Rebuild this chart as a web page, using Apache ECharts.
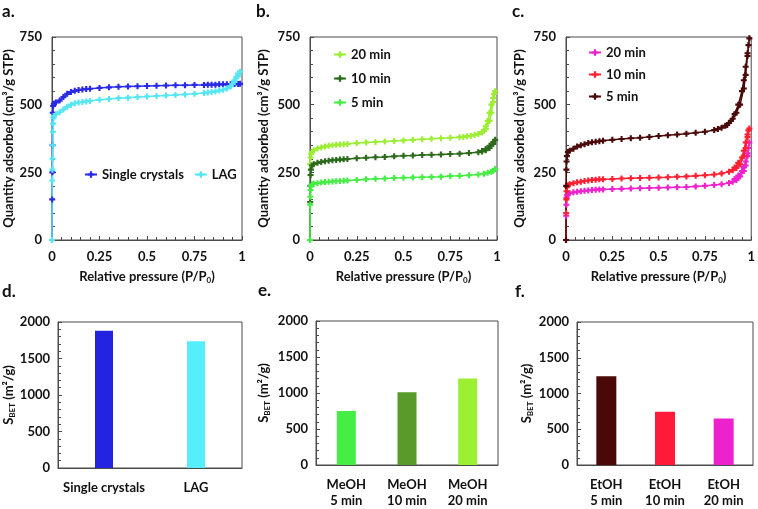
<!DOCTYPE html>
<html>
<head>
<meta charset="utf-8">
<script src="https://cdn.jsdelivr.net/npm/echarts@6/dist/echarts.min.js"></script>
<style>html,body{margin:0;padding:0;background:#fff;}#chart{width:758px;height:509px;}</style>
</head>
<body>
<div id="chart"></div>
<script>
// ---------- DATA ----------
// Panel a: isotherms [P/P0, quantity adsorbed]
const singleCrystals = [[0,0],[0.001,150],[0.002,250],[0.003,350],[0.004,470],[0.006,495],[0.01,503],[0.02,508],[0.04,515],[0.06,528],[0.08,540],[0.1,547],[0.12,551],[0.14,554],[0.16,556],[0.18,558],[0.2,559],[0.25,562],[0.3,564],[0.35,566],[0.4,567],[0.45,568],[0.5,569],[0.55,570],[0.6,571],[0.65,572],[0.7,572],[0.75,573],[0.8,573],[0.82,574],[0.84,574],[0.86,574],[0.88,575],[0.9,575],[0.92,575],[0.94,575],[0.96,576],[0.98,576],[0.99,577]];
const lag = [[0,0],[0.001,220],[0.002,260],[0.003,300],[0.004,350],[0.005,400],[0.006,430],[0.008,450],[0.01,458],[0.02,465],[0.04,472],[0.06,482],[0.08,492],[0.1,500],[0.12,505],[0.14,508],[0.16,510],[0.18,512],[0.2,514],[0.25,518],[0.3,521],[0.35,524],[0.4,526],[0.45,528],[0.5,530],[0.55,532],[0.6,534],[0.65,536],[0.7,538],[0.75,540],[0.8,543],[0.82,545],[0.84,547],[0.86,549],[0.88,552],[0.9,555],[0.92,560],[0.94,568],[0.96,585],[0.98,605],[0.99,622],[0.98,615],[0.97,603],[0.96,590],[0.95,577],[0.94,568]];
// Panel b: MeOH
const meoh20 = [[0.001,280],[0.003,305],[0.006,318],[0.01,325],[0.02,332],[0.04,338],[0.06,342],[0.08,345],[0.1,348],[0.12,350],[0.14,352],[0.16,353],[0.18,354],[0.2,355],[0.25,358],[0.3,360],[0.35,362],[0.4,364],[0.45,366],[0.5,368],[0.55,370],[0.6,372],[0.65,374],[0.7,376],[0.75,378],[0.8,380],[0.82,381],[0.84,383],[0.86,385],[0.88,388],[0.9,392],[0.92,398],[0.94,410],[0.96,440],[0.97,470],[0.98,510],[0.99,550],[0.985,540],[0.98,525],[0.97,500],[0.96,470],[0.95,440],[0.94,420],[0.93,405],[0.92,398]];
const meoh10 = [[0,0],[0.001,140],[0.002,200],[0.003,240],[0.005,260],[0.01,275],[0.02,280],[0.04,285],[0.06,288],[0.08,291],[0.1,293],[0.12,295],[0.14,296],[0.16,297],[0.18,298],[0.2,299],[0.25,302],[0.3,304],[0.35,306],[0.4,307],[0.45,309],[0.5,311],[0.55,312],[0.6,314],[0.65,315],[0.7,316],[0.75,318],[0.8,319],[0.85,321],[0.9,324],[0.92,327],[0.94,332],[0.96,340],[0.98,355],[0.99,370],[0.98,362],[0.96,348],[0.94,336],[0.92,329]];
const meoh5 = [[0,0],[0.001,130],[0.002,160],[0.003,185],[0.005,198],[0.01,205],[0.02,208],[0.04,210],[0.06,212],[0.08,214],[0.1,215],[0.12,216],[0.14,217],[0.16,218],[0.18,219],[0.2,220],[0.25,222],[0.3,224],[0.35,226],[0.4,227],[0.45,229],[0.5,230],[0.55,231],[0.6,232],[0.65,233],[0.7,234],[0.75,236],[0.8,237],[0.85,239],[0.9,242],[0.93,245],[0.95,248],[0.97,252],[0.98,256],[0.99,262]];
// Panel c: EtOH
const etoh20 = [[0,0],[0.001,90],[0.002,130],[0.003,155],[0.005,165],[0.01,170],[0.02,173],[0.04,176],[0.06,178],[0.08,180],[0.1,182],[0.12,183],[0.14,185],[0.16,186],[0.18,187],[0.2,187],[0.25,188],[0.3,189],[0.35,190],[0.4,191],[0.45,192],[0.5,193],[0.55,194],[0.6,195],[0.65,196],[0.7,198],[0.75,200],[0.8,203],[0.84,206],[0.88,211],[0.9,215],[0.92,222],[0.94,235],[0.96,255],[0.97,275],[0.98,310],[0.99,360],[0.985,340],[0.98,320],[0.97,290],[0.96,270],[0.95,255],[0.93,238],[0.91,225]];
const etoh10 = [[0,0],[0.001,100],[0.002,150],[0.003,180],[0.005,195],[0.01,202],[0.02,206],[0.04,210],[0.06,213],[0.08,215],[0.1,218],[0.12,220],[0.14,222],[0.16,223],[0.18,224],[0.2,224],[0.25,225],[0.3,227],[0.35,228],[0.4,229],[0.45,230],[0.5,231],[0.55,232],[0.6,234],[0.65,235],[0.7,237],[0.75,239],[0.8,242],[0.84,246],[0.88,252],[0.9,258],[0.92,266],[0.94,280],[0.96,310],[0.97,340],[0.98,380],[0.99,412],[0.985,405],[0.98,390],[0.97,360],[0.96,330],[0.95,305],[0.93,285],[0.91,268]];
const etoh5 = [[0,0],[0.001,200],[0.002,260],[0.003,290],[0.005,310],[0.01,325],[0.02,330],[0.04,337],[0.06,345],[0.08,350],[0.1,354],[0.12,358],[0.14,361],[0.16,363],[0.18,365],[0.2,367],[0.25,370],[0.3,373],[0.35,376],[0.4,378],[0.45,381],[0.5,384],[0.55,387],[0.6,390],[0.65,393],[0.7,396],[0.75,400],[0.8,406],[0.82,410],[0.84,415],[0.86,422],[0.88,432],[0.9,448],[0.92,470],[0.94,500],[0.96,560],[0.97,610],[0.98,680],[0.99,745],[0.985,720],[0.98,690],[0.97,640],[0.96,590],[0.95,550],[0.93,500],[0.91,465],[0.89,440],[0.87,425]];
// Bar panels: BET surface areas
const dCategories = ['Single crystals', 'LAG'];
const dValues = [1880, 1735];
const eCategories = ['MeOH\n5 min', 'MeOH\n10 min', 'MeOH\n20 min'];
const eValues = [750, 1010, 1200];
const fCategories = ['EtOH\n5 min', 'EtOH\n10 min', 'EtOH\n20 min'];
const fValues = [1240, 745, 650];
// Tick settings
const isoTicks = {min: 0, max: 750, interval: 250};
const presTicks = {min: 0, max: 1, interval: 0.25};
const betTicks = {min: 0, max: 2000, interval: 500};

// ---------- STYLE ----------
const FONT = 'Lato';
const AX = '#4a4a4a';
const plus = 'path://M2.6,0H5.4V2.6H8V5.4H5.4V8H2.6V5.4H0V2.6H2.6Z';
const colA = ['#2a2ae6', '#55e6f2'];
const colB = ['#9cee33', '#2d6a1c', '#44ee44'];
const colC = ['#ee22cc', '#ff2034', '#4a0a0a'];
const dColors = ['#2424e0', '#55eefa'];
const eColors = ['#44ee44', '#5a9a2a', '#9cf033'];
const fColors = ['#4a0808', '#ff1a3a', '#ee22cc'];

const grids = [
  {left: 52, top: 37, width: 190, height: 203},
  {left: 310, top: 37, width: 187, height: 203},
  {left: 566, top: 37, width: 187, height: 203},
  {left: 58, top: 322, width: 184, height: 146},
  {left: 316, top: 321, width: 182, height: 147},
  {left: 577, top: 322, width: 176, height: 147}
].map(g => Object.assign({show: true, borderColor: AX, borderWidth: 1, backgroundColor: '#fff'}, g));

const labelStyle = {color: '#111', fontFamily: FONT, fontWeight: 'bold', fontSize: 13};
const axisLine = {show: true, lineStyle: {color: AX, width: 1}};
const plain = v => String(v);

function valueX(i) {
  return {
    type: 'value', gridIndex: i, min: presTicks.min, max: presTicks.max, interval: presTicks.interval,
    axisLine: axisLine, splitLine: {show: false},
    axisTick: {show: true, inside: true, length: 4, lineStyle: {color: AX}},
    minorTick: {show: true, splitNumber: 5, length: 3, lineStyle: {color: AX}},
    axisLabel: Object.assign({margin: 10, formatter: plain}, labelStyle),
    name: 'Relative pressure (P/P{s|0})', nameLocation: 'middle', nameGap: 30,
    nameTextStyle: Object.assign({}, labelStyle, {rich: {s: {fontFamily: FONT, fontWeight: 'bold', fontSize: 8, verticalAlign: 'bottom', padding: [6, 0, 0, 0]}}})
  };
}
function valueY(i, gap) {
  return {
    type: 'value', gridIndex: i, min: isoTicks.min, max: isoTicks.max, interval: isoTicks.interval,
    axisLine: axisLine, splitLine: {show: false},
    axisTick: {show: true, inside: true, length: 4, lineStyle: {color: AX}},
    minorTick: {show: true, splitNumber: 5, length: 3, lineStyle: {color: AX}},
    axisLabel: Object.assign({margin: 10, formatter: plain}, labelStyle),
    name: 'Quantity adsorbed (cm³/g STP)', nameLocation: 'middle', nameGap: gap,
    nameTextStyle: labelStyle
  };
}
function catX(i, cats) {
  return {
    type: 'category', gridIndex: i, data: cats,
    axisLine: axisLine, axisTick: {show: false}, splitLine: {show: false},
    axisLabel: Object.assign({margin: 12, lineHeight: 16, interval: 0}, labelStyle)
  };
}
function betY(i, gap) {
  return {
    type: 'value', gridIndex: i, min: betTicks.min, max: betTicks.max, interval: betTicks.interval,
    axisLine: axisLine, splitLine: {show: false},
    axisTick: {show: true, inside: true, length: 4, lineStyle: {color: AX}},
    minorTick: {show: true, splitNumber: 5, length: 3, lineStyle: {color: AX}},
    axisLabel: Object.assign({margin: 8, formatter: plain}, labelStyle),
    name: '{a|S}{b|BET}{a| (m²/g)}', nameLocation: 'middle', nameGap: gap,
    nameTextStyle: {rich: {
      a: {fontFamily: FONT, fontWeight: 'bold', fontSize: 13, color: '#111'},
      b: {fontFamily: FONT, fontWeight: 'bold', fontSize: 8, color: '#111', verticalAlign: 'bottom', padding: [6, 0, 0, 0]}
    }}
  };
}
function lineSeries(name, data, color, idx) {
  return {
    type: 'line', name: name, data: data, xAxisIndex: idx, yAxisIndex: idx,
    symbol: plus, symbolSize: 6, showSymbol: true,
    lineStyle: {color: color, width: 1.5}, itemStyle: {color: color},
    animation: false
  };
}
function barSeries(vals, colors, idx, w) {
  return {
    type: 'bar', xAxisIndex: idx, yAxisIndex: idx, barWidth: w,
    data: vals.map((v, k) => ({value: v, itemStyle: {color: colors[k]}})),
    animation: false
  };
}

const legendText = {color: '#111', fontFamily: FONT, fontWeight: 'bold', fontSize: 13};
const stripName = n => n.replace(/^(MeOH|EtOH) /, '');

const option = {
  backgroundColor: '#fff',
  animation: false,
  grid: grids,
  xAxis: [valueX(0), valueX(1), valueX(2), catX(3, dCategories), catX(4, eCategories), catX(5, fCategories)],
  yAxis: [valueY(0, 34), valueY(1, 40), valueY(2, 40), betY(3, 40), betY(4, 45), betY(5, 43)],
  legend: [
    {data: ['Single crystals', 'LAG'], left: 84, top: 168, orient: 'horizontal', itemGap: 10, itemWidth: 12, itemHeight: 8, textStyle: legendText, padding: 0},
    {data: ['MeOH 20 min', 'MeOH 10 min', 'MeOH 5 min'], left: 333, top: 48, orient: 'vertical', itemGap: 11, itemWidth: 12, itemHeight: 8, textStyle: legendText, formatter: stripName, padding: 0},
    {data: ['EtOH 20 min', 'EtOH 10 min', 'EtOH 5 min'], left: 588, top: 46, orient: 'vertical', itemGap: 9, itemWidth: 12, itemHeight: 8, textStyle: legendText, formatter: stripName, padding: 0}
  ],
  graphic: [
    {type: 'text', left: 2, top: 3, style: {text: 'a.', font: 'bold 17px Lato', fill: '#111'}},
    {type: 'text', left: 256, top: 3, style: {text: 'b.', font: 'bold 17px Lato', fill: '#111'}},
    {type: 'text', left: 512, top: 3, style: {text: 'c.', font: 'bold 17px Lato', fill: '#111'}},
    {type: 'text', left: 2, top: 283, style: {text: 'd.', font: 'bold 17px Lato', fill: '#111'}},
    {type: 'text', left: 258, top: 282, style: {text: 'e.', font: 'bold 17px Lato', fill: '#111'}},
    {type: 'text', left: 515, top: 283, style: {text: 'f.', font: 'bold 17px Lato', fill: '#111'}}
  ],
  series: [
    lineSeries('Single crystals', singleCrystals, colA[0], 0),
    lineSeries('LAG', lag, colA[1], 0),
    lineSeries('MeOH 20 min', meoh20, colB[0], 1),
    lineSeries('MeOH 10 min', meoh10, colB[1], 1),
    lineSeries('MeOH 5 min', meoh5, colB[2], 1),
    lineSeries('EtOH 20 min', etoh20, colC[0], 2),
    lineSeries('EtOH 10 min', etoh10, colC[1], 2),
    lineSeries('EtOH 5 min', etoh5, colC[2], 2),
    barSeries(dValues, dColors, 3, 18),
    barSeries(eValues, eColors, 4, 19),
    barSeries(fValues, fColors, 5, 20)
  ]
};
const chart = echarts.init(document.getElementById('chart'), null, {renderer: 'canvas'});
chart.setOption(option);
</script>
</body>
</html>
